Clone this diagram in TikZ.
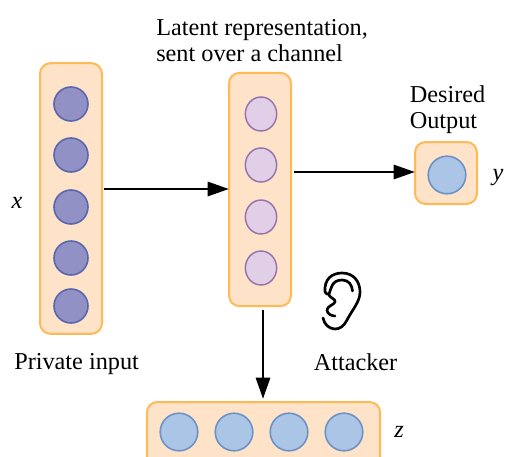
\documentclass[tikz,border=0pt]{standalone}
\usepackage{fontspec}
\setmainfont{Liberation Serif}
\usetikzlibrary{arrows.meta,shapes.geometric}
\definecolor{boxfill}{HTML}{FFE3C9}
\definecolor{boxline}{HTML}{FFB957}
\definecolor{inA}{HTML}{9191C6}
\definecolor{inAl}{HTML}{5A68AE}
\definecolor{inB}{HTML}{E1CFE8}
\definecolor{inBl}{HTML}{9673A9}
\definecolor{inC}{HTML}{ABC5E6}
\definecolor{inCl}{HTML}{6C92C6}
\tikzset{
  layerbox/.style={draw=boxline,fill=boxfill,line width=1.5pt,rounded corners=8pt,minimum width=46.5pt,inner sep=0pt},
  unitA/.style={circle,draw=inAl,fill=inA,line width=1.2pt,minimum size=25.5pt,inner sep=0pt},
  unitB/.style={ellipse,draw=inBl,fill=inB,line width=1.1pt,minimum width=23.5pt,minimum height=25.5pt,inner sep=0pt},
  unitC/.style={circle,draw=inCl,fill=inC,line width=1.2pt,minimum size=28.2pt,inner sep=0pt},
  link/.style={-{Triangle[length=16pt,width=10.5pt]},line width=2.2pt,shorten >=0pt},
  lab/.style={font=\fontsize{18.2pt}{19.7pt}\selectfont,inner sep=0pt,align=left},
  sym/.style={font=\fontsize{18.2pt}{19.7pt}\selectfont\itshape,inner sep=0pt},
  earline/.style={line width=2pt,line cap=round,line join=round}
}
\begin{document}
\begin{tikzpicture}[x=0.75pt,y=-0.75pt]
\useasboundingbox (0,0) rectangle (505,456);
\clip (0,0) rectangle (505,456);
\node[layerbox,minimum height=203pt] (inbox) at (71,198.5) {};
\node[layerbox,minimum height=175pt] (midbox) at (260,189.5) {};
\node[layerbox,minimum height=46.5pt] (outbox) at (446,173) {};
\node[layerbox,minimum width=175pt,minimum height=54pt] (zbox) at (263.5,438) {};
\foreach \n/\y in {1/104,2/155,3/207,4/258,5/306}{\node[unitA] (a\n) at (71,\y) {};}
\foreach \n/\y in {1/114,2/165,3/217,4/268}{\node[unitB] (b\n) at (261,\y) {};}
\node[unitC] (c1) at (447,175) {};
\foreach \n/\x in {1/179,2/234,3/289,4/344}{\node[unitC] (d\n) at (\x,432) {};}
\coordinate (s1) at (104,189); \coordinate (e1) at (229,189);
\coordinate (s2) at (294,172); \coordinate (e2) at (415,172);
\coordinate (s3) at (263,310); \coordinate (e3) at (263,399);
\draw[link] (s1) -- (e1);
\draw[link] (s2) -- (e2);
\draw[link] (s3) -- (e3);
\node[lab,anchor=west] (t1) at (156,40.5) {Latent representation,\\sent over a channel};
\node[lab,anchor=west] (t2) at (409.5,109.5) {Desired\\Output};
\node[lab,anchor=west] (t3) at (14,364) {Private input};
\node[lab,anchor=west] (t4) at (313.5,362.5) {Attacker};
\node[sym] (x) at (17,203) {x};
\node[sym] (y) at (498,178) {y};
\node[sym] (z) at (399,432) {z};
% ear
\draw[earline]
  (325,292) .. controls (324,279) and (332,273) .. (342,273)
  .. controls (354,273) and (360,282) .. (360,292)
  .. controls (360,302) and (352,310) .. (347,320)
  .. controls (344,326) and (340,329) .. (335,329)
  .. controls (329,329) and (324,324) .. (323,318);
\draw[earline]
  (325,292) .. controls (326,294) and (328,295) .. (329,294)
  .. controls (331,290) and (331,280) .. (342,280)
  .. controls (349,280) and (352,285) .. (352.5,291);
\draw[earline]
  (329,295) .. controls (330,298) and (336,299) .. (335,302)
  .. controls (334,305) and (327,306) .. (327,310)
  .. controls (327,314) and (332,316) .. (335,316);
\end{tikzpicture}
\end{document}
